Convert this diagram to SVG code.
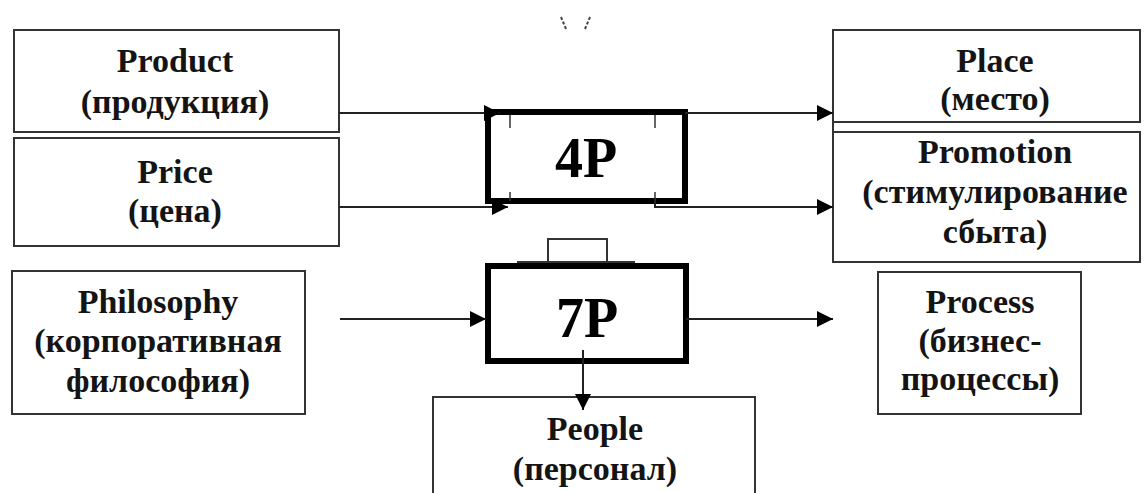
<svg xmlns="http://www.w3.org/2000/svg" width="1148" height="493" viewBox="0 0 1148 493">
<defs>
<style>
.box{fill:#fff;stroke:#333;stroke-width:2}
.thick{fill:#fff;stroke:#000;stroke-width:6}
.t{font-family:"Liberation Serif","DejaVu Serif",serif;font-weight:bold;font-size:34px;fill:#141414;text-anchor:middle}
.big{font-family:"Liberation Serif","DejaVu Serif",serif;font-weight:bold;font-size:56px;fill:#000;text-anchor:middle}
.c{fill:none;stroke:#222;stroke-width:2}
</style>
<marker id="ahb" viewBox="0 0 10 10" refX="10" refY="5" markerWidth="16" markerHeight="16" markerUnits="userSpaceOnUse" orient="auto">
<path d="M0,0 L10,5 L0,10 z" fill="#000"/>
</marker>
</defs>
<rect width="1148" height="493" fill="#fff"/>
<g id="artifact" stroke="#444" stroke-width="2" stroke-dasharray="3,2" fill="none">
<line x1="561" y1="17" x2="566" y2="29"/>
<line x1="590" y1="17" x2="585" y2="29"/>
</g>
<g id="product">
<rect class="box" x="14" y="30" width="325" height="102"/>
<text class="t" x="175" y="72">Product</text>
<text class="t" x="175" y="113">(продукция)</text>
</g>
<g id="price">
<rect class="box" x="14" y="138" width="325" height="108"/>
<text class="t" x="175" y="183">Price</text>
<text class="t" x="175" y="222">(цена)</text>
</g>
<g id="place">
<rect class="box" x="833" y="30" width="307" height="92"/>
<text class="t" x="995" y="72">Place</text>
<text class="t" x="995" y="110">(место)</text>
</g>
<g id="promotion">
<rect class="box" x="833" y="132" width="307" height="130"/>
<line x1="833" y1="122" x2="833" y2="132" stroke="#333" stroke-width="2"/>
<text class="t" x="995" y="163">Promotion</text>
<text class="t" x="995" y="203">(стимулирование</text>
<text class="t" x="995" y="243">сбыта)</text>
</g>
<g id="p4">
<rect class="thick" x="488" y="112" width="197" height="89"/>
<line x1="510" y1="115" x2="510" y2="128" stroke="#333" stroke-width="1.5"/>
<line x1="655" y1="115" x2="655" y2="128" stroke="#333" stroke-width="1.5"/>
<line x1="510" y1="192" x2="510" y2="201" stroke="#333" stroke-width="1.5"/>
<line x1="655" y1="192" x2="655" y2="201" stroke="#333" stroke-width="1.5"/>
<text class="big" x="586" y="177">4P</text>
</g>
<g id="p7">
<rect class="box" x="548" y="239" width="59" height="24"/>
<line x1="517" y1="262" x2="635" y2="262" stroke="#333" stroke-width="2"/>
<rect class="thick" x="488" y="266" width="198" height="95"/>
<text class="big" x="587" y="337">7P</text>
</g>
<g id="philosophy">
<rect class="box" x="12" y="271" width="293" height="143"/>
<text class="t" x="158" y="313">Philosophy</text>
<text class="t" x="158" y="352">(корпоративная</text>
<text class="t" x="158" y="392">философия)</text>
</g>
<g id="process">
<rect class="box" x="878" y="272" width="203" height="142"/>
<text class="t" x="980" y="313">Process</text>
<text class="t" x="980" y="352">(бизнес-</text>
<text class="t" x="980" y="390">процессы)</text>
</g>
<g id="people">
<rect class="box" x="433" y="397" width="322" height="110"/>
<text class="t" x="595" y="440">People</text>
<text class="t" x="595" y="480">(персонал)</text>
</g>
<g id="connectors">
<line class="c" x1="339" y1="113" x2="500" y2="113" marker-end="url(#ahb)"/>
<line class="c" x1="685" y1="113" x2="833" y2="113" marker-end="url(#ahb)"/>
<line class="c" x1="339" y1="207" x2="508" y2="207" marker-end="url(#ahb)"/>
<polyline class="c" points="655,201 655,207 833,207" marker-end="url(#ahb)"/>
<line class="c" x1="340" y1="319" x2="486" y2="319" marker-end="url(#ahb)"/>
<line class="c" x1="686" y1="319" x2="833" y2="319" marker-end="url(#ahb)"/>
<line class="c" x1="583" y1="350" x2="583" y2="410" marker-end="url(#ahb)"/>
</g>
</svg>
